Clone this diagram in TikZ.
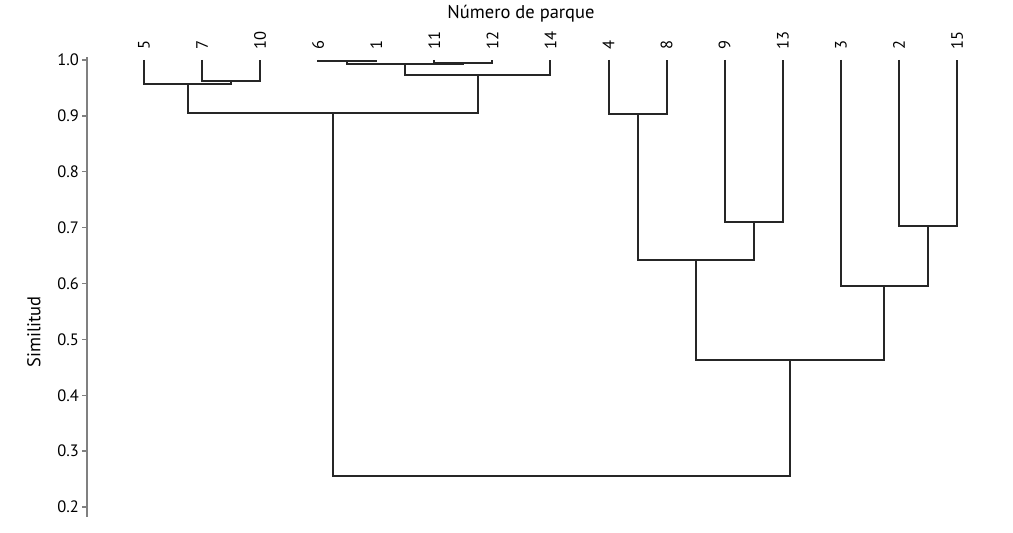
\documentclass[tikz,border=0pt]{standalone}
\usepackage{fontspec}
\setmainfont{PT Sans}
\usetikzlibrary{calc}

% one merge of two clusters: children, height, new name
\newcommand{\mergepair}[4]{%
  \draw[link] (#1) -- (#1 |- 0,#3) -- (#2 |- 0,#3) -- (#2);
  \coordinate (#4) at ($(#1 |- 0,#3)!0.5!(#2 |- 0,#3)$);
}

\begin{document}
\begin{tikzpicture}[
    link/.style={draw=black!85, line width=2pt},
    axisline/.style={draw=black!50, line width=1.4pt},
    leaf/.style={font=\fontsize{16.5}{19}\selectfont, rotate=90, anchor=west, inner sep=0pt},
    ticklabel/.style={font=\fontsize{16.5}{19}\selectfont, anchor=east, inner sep=0pt},
    title/.style={font=\fontsize{18.5}{22}\selectfont, inner sep=0pt}
]
\useasboundingbox (0,0) rectangle (1013pt,533pt);

\begin{scope}[x=1pt, y=558.75pt, yshift=-85.75pt]

% Leaves
\foreach \p/\k in {5/0,7/1,10/2,6/3,1/4,11/5,12/6,14/7,4/8,8/9,9/10,13/11,3/12,2/13,15/14}{
  \coordinate (l\p) at (144+58.07*\k,1.0);
  \node[leaf] (t\p) at ([yshift=10pt]l\p) {\p};
}

% Axis
\draw[axisline] (87,1.005) -- (87,0.182);
\foreach \s in {0.2,0.3,0.4,0.5,0.6,0.7,0.8,0.9,1.0}{
  \draw[axisline] (82,\s) -- (87,\s);
  \node[ticklabel] at (79,\s) {\s};
}
\node[title, rotate=90] (ylab) at (34,0.5134) {Similitud};
\node[title] (xlab) at (521,1.082) {Número de parque};

% Left group
\mergepair{l7}{l10}{0.962}{c7}
\mergepair{l5}{c7}{0.957}{c5}
\mergepair{l6}{l1}{0.998}{c6}
\mergepair{l11}{l12}{0.995}{c11}
\mergepair{c6}{c11}{0.993}{c61}
\mergepair{c61}{l14}{0.973}{c14}
\mergepair{c5}{c14}{0.905}{cleft}

% Right group
\mergepair{l4}{l8}{0.904}{c4}
\mergepair{l9}{l13}{0.710}{c9}
\mergepair{c4}{c9}{0.642}{c49}
\mergepair{l2}{l15}{0.703}{c2}
\mergepair{l3}{c2}{0.596}{c3}
\mergepair{c49}{c3}{0.463}{cright}

% Root
\mergepair{cleft}{cright}{0.2555}{root}

\end{scope}
\end{tikzpicture}
\end{document}
